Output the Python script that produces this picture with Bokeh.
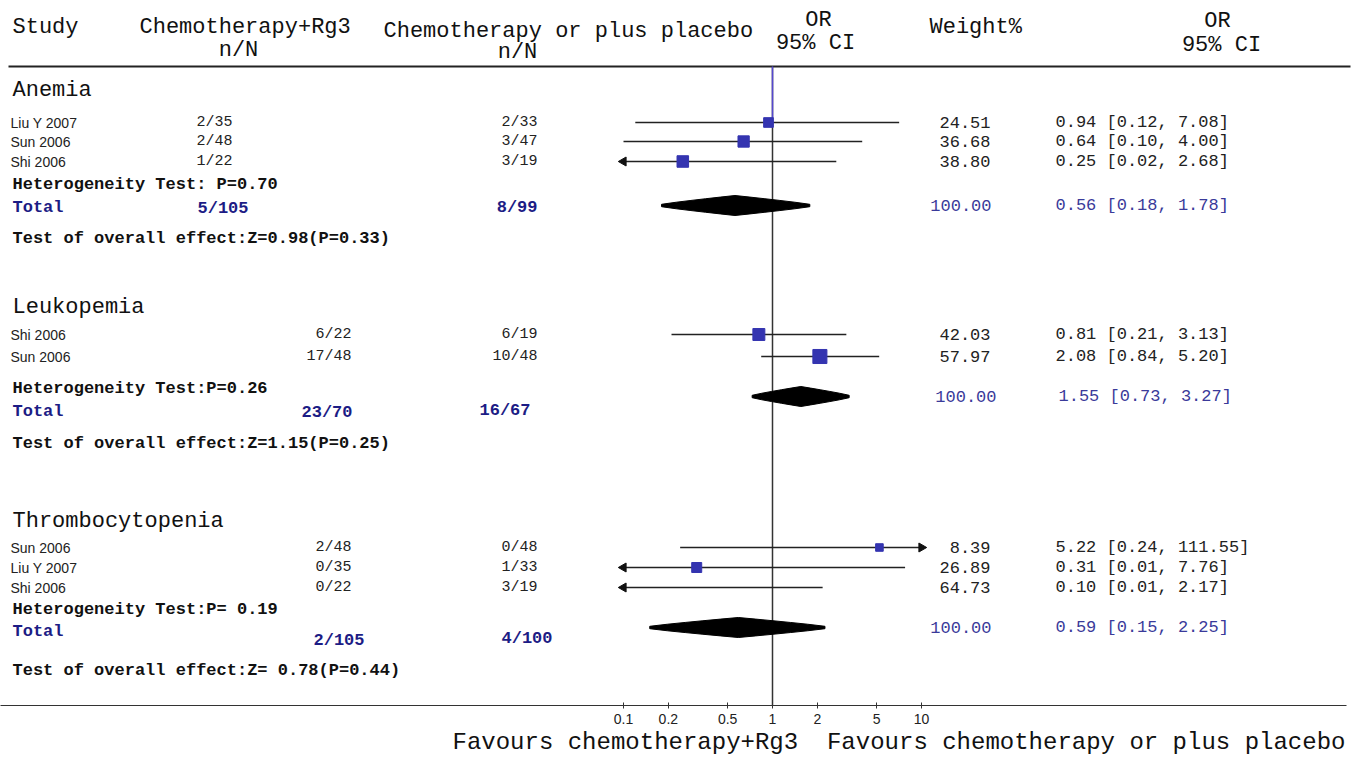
import math
from bokeh.plotting import figure
from bokeh.models import ColumnDataSource, Range1d, LogScale, LogAxis, FixedTicker, Title
from bokeh.embed import file_html
from bokeh.resources import INLINE
from bokeh.core.properties import value

# ---------------- data ----------------
groups = ["Anemia", "Leukopemia", "Thrombocytopenia"]
study = ["Liu Y 2007", "Sun 2006", "Shi 2006",
         "Shi 2006", "Sun 2006",
         "Sun 2006", "Liu Y 2007", "Shi 2006"]
rg3_nN = ["2/35", "2/48", "1/22", "6/22", "17/48", "2/48", "0/35", "0/22"]
ctrl_nN = ["2/33", "3/47", "3/19", "6/19", "10/48", "0/48", "1/33", "3/19"]
or_est = [0.94, 0.64, 0.25, 0.81, 2.08, 5.22, 0.31, 0.10]
ci_lo = [0.12, 0.10, 0.02, 0.21, 0.84, 0.24, 0.01, 0.01]
ci_hi = [7.08, 4.00, 2.68, 3.13, 5.20, 111.55, 7.76, 2.17]
weight = [24.51, 36.68, 38.80, 42.03, 57.97, 8.39, 26.89, 64.73]

total_rg3 = ["5/105", "23/70", "2/105"]
total_ctrl = ["8/99", "16/67", "4/100"]
total_or = [0.56, 1.55, 0.59]
total_lo = [0.18, 0.73, 0.15]
total_hi = [1.78, 3.27, 2.25]
total_weight = [100.00, 100.00, 100.00]
het_text = ["Heterogeneity Test: P=0.70", "Heterogeneity Test:P=0.26", "Heterogeneity Test:P= 0.19"]
overall_text = ["Test of overall effect:Z=0.98(P=0.33)",
                "Test of overall effect:Z=1.15(P=0.25)",
                "Test of overall effect:Z= 0.78(P=0.44)"]

tick_values = [0.1, 0.2, 0.5, 1, 2, 5, 10]
tick_labels = ["0.1", "0.2", "0.5", "1", "2", "5", "10"]
favours_left = "Favours chemotherapy+Rg3"
favours_right = "Favours chemotherapy or plus placebo"

def ci_str(e, l, h):
    return f"{e:.2f} [{l:.2f}, {h:.2f}]"

# ---------------- layout (reference pixel positions) ----------------
W, H = 1364, 759
FRAME_H = 705
OR1_X = 772                  # pixel x of OR = 1
DECADE = 149                 # pixels per decade

group_y = [90, 307, 521]
row_y = [122, 141, 161, 334, 356, 547, 567, 587]
rg3_right = [232, 232, 232, 351, 351, 351, 351, 351]
het_y = [184, 388, 609]
tot_lab_y = [207, 411, 631]
tot_rg3_y = [208, 412, 640]
tot_rg3_right = [248, 352, 364]
tot_ctrl_y = [207, 410, 638]
tot_ctrl_right = [537, 530, 552]
diamond_y = [205, 396, 627]
DIAMOND_H = 10
tot_w_right = [991, 996, 991]
tot_ci_left = [1055, 1058, 1055]
overall_y = [238, 443, 670]

MONO = "Liberation Mono"
SANS = "Liberation Sans"
BLUE_TXT = "#1c1c85"
BLUE_NUM = "#3a3a9a"
SQ_BLUE = "#3434b0"

p = figure(width=W, height=H, output_backend="svg", toolbar_location=None,
           x_range=Range1d(0, W), y_range=Range1d(FRAME_H, 0),
           x_axis_type=None, y_axis_type=None,
           min_border_left=0, min_border_right=0, min_border_top=0,
           min_border_bottom=H - FRAME_H)
p.outline_line_color = None
p.background_fill_color = "white"
p.border_fill_color = "white"
p.extra_x_ranges = {"or": Range1d(10 ** (-OR1_X / DECADE), 10 ** ((W - OR1_X) / DECADE))}
p.extra_x_scales = {"or": LogScale()}


def txt(xs, ys, ts, size, font=MONO, style="normal", color="#111111", align="left"):
    src = ColumnDataSource(dict(x=list(xs), y=list(ys), t=list(ts)))
    p.text("x", "y", text="t", source=src, text_font=value(font),
           text_font_size=value(f"{size}px"), text_font_style=style,
           text_color=color, text_align=align, text_baseline="middle")


# ---- header ----
txt([12, 139, 383, 929], [27, 27, 31, 27],
    ["Study", "Chemotherapy+Rg3", "Chemotherapy or plus placebo", "Weight%"], 22)
txt([238, 517, 818, 815, 1217, 1221], [50, 52, 20, 43, 21, 45],
    ["n/N", "n/N", "OR", "95% CI", "OR", "95% CI"], 22, align="center")
p.segment(x0=[8], y0=[66], x1=[1350], y1=[66], line_color="#222222", line_width=2)

# ---- group titles ----
txt([12] * 3, group_y, groups, 22)

# ---- study rows ----
txt([10] * len(study), row_y, study, 14, font=SANS, color="#222222")
txt(rg3_right, row_y, rg3_nN, 15, color="#222222", align="right")
txt([537] * len(study), row_y, ctrl_nN, 15, color="#222222", align="right")
txt([990] * len(study), row_y, [f"{w:.2f}" for w in weight], 17, color="#222222", align="right")
txt([1055] * len(study), row_y, [ci_str(e, l, h) for e, l, h in zip(or_est, ci_lo, ci_hi)],
    17, color="#222222")

# ---- subgroup summary text ----
txt([12] * 3, het_y, het_text, 17, style="bold")
txt([12] * 3, tot_lab_y, ["Total"] * 3, 17, style="bold", color=BLUE_TXT)
txt(tot_rg3_right, tot_rg3_y, total_rg3, 17, style="bold", color=BLUE_TXT, align="right")
txt(tot_ctrl_right, tot_ctrl_y, total_ctrl, 17, style="bold", color=BLUE_TXT, align="right")
txt(tot_w_right, diamond_y, [f"{w:.2f}" for w in total_weight], 17, color=BLUE_NUM, align="right")
txt(tot_ci_left, diamond_y, [ci_str(e, l, h) for e, l, h in zip(total_or, total_lo, total_hi)],
    17, color=BLUE_NUM)
txt([12] * 3, overall_y, overall_text, 17, style="bold")

# ---- forest: line of no effect ----
lo_clip, hi_clip = tick_values[0], tick_values[-1]
p.segment(x0=[1], x1=[1], y0=[66], y1=[FRAME_H], x_range_name="or",
          line_color="#333333", line_width=1.5)
p.segment(x0=[1], x1=[1], y0=[66], y1=[118], x_range_name="or",
          line_color="#5548d0", line_width=1.5)

# ---- CI lines ----
seg = ColumnDataSource(dict(x0=[max(l, lo_clip) for l in ci_lo],
                            x1=[min(h, hi_clip) for h in ci_hi],
                            y=row_y))
p.segment(x0="x0", x1="x1", y0="y", y1="y", source=seg, x_range_name="or",
          line_color="#222222", line_width=1.6)

left_arr = [(lo_clip, y) for l, y in zip(ci_lo, row_y) if l < lo_clip]
right_arr = [(hi_clip, y) for h, y in zip(ci_hi, row_y) if h > hi_clip]
if left_arr:
    p.scatter(x=[a[0] for a in left_arr], y=[a[1] for a in left_arr], marker="triangle",
              angle=math.pi / 2, size=9, color="#111111", x_range_name="or")
if right_arr:
    p.scatter(x=[a[0] for a in right_arr], y=[a[1] for a in right_arr], marker="triangle",
              angle=-math.pi / 2, size=9, color="#111111", x_range_name="or")

# ---- squares (size grows with weight) ----
vis = [i for i, e in enumerate(or_est) if e > lo_clip]
sq = ColumnDataSource(dict(x=[or_est[i] for i in vis], y=[row_y[i] for i in vis],
                           s=[6.5 + 0.13 * weight[i] for i in vis]))
p.scatter("x", "y", size="s", marker="square", source=sq, x_range_name="or",
          fill_color=SQ_BLUE, line_color=SQ_BLUE)

# ---- pooled "diamonds" (lens-shaped, fat centre, thin tails) ----
fracs = [0.0, 0.2, 0.4, 0.6, 0.8, 1.0]
def lens(e, l, h, yc):
    le, ll, lh = math.log10(e), math.log10(l), math.log10(h)
    # s: 0 at the CI end, 1 at the point estimate
    pts = [(ll + (le - ll) * s, s) for s in fracs] + \
          [(le + (lh - le) * t, 1 - t) for t in fracs[1:]]
    top_x, top_y, bot_x, bot_y = [], [], [], []
    for lx, s in pts:
        half = 1.2 + (DIAMOND_H - 1.2) * (s ** 0.9)
        top_x.append(10 ** lx); top_y.append(yc - half)
        bot_x.append(10 ** lx); bot_y.append(yc + half)
    return top_x + bot_x[::-1], top_y + bot_y[::-1]

dxs, dys = [], []
for e, l, h, yc in zip(total_or, total_lo, total_hi, diamond_y):
    xs_, ys_ = lens(e, l, h, yc)
    dxs.append(xs_); dys.append(ys_)
p.patches(xs=dxs, ys=dys, x_range_name="or", fill_color="black", line_color="black")

# ---- axis ----
ax = LogAxis(x_range_name="or")
ax.ticker = FixedTicker(ticks=tick_values)
ax.major_label_overrides = dict(zip(tick_values, tick_labels))
ax.bounds = (10 ** (-OR1_X / DECADE), 10 ** ((1346 - OR1_X) / DECADE))
ax.minor_tick_line_color = None
ax.major_tick_in = 3
ax.major_tick_out = 3
ax.axis_line_color = "#333333"
ax.major_tick_line_color = "#333333"
ax.major_label_text_font = SANS
ax.major_label_text_font_size = "14px"
ax.major_label_text_color = "#222222"
ax.major_label_standoff = 5
p.add_layout(ax, "below")

p.add_layout(Title(text=favours_left + "\u00a0 " + favours_right, align="left", offset=452,
                   standoff=0, text_font=MONO, text_font_size="24px",
                   text_font_style="normal", text_color="#111111"), "below")

open("out.html", "w").write(file_html(p, INLINE))
